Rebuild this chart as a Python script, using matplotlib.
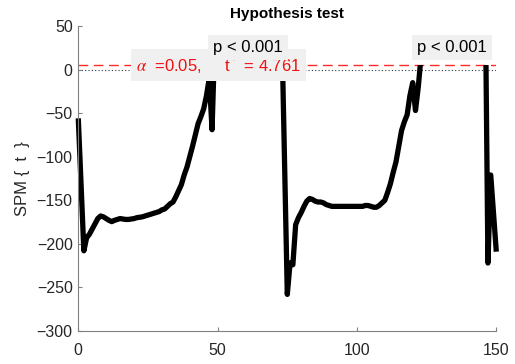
import numpy as np
import matplotlib
matplotlib.use("Agg")
import matplotlib.pyplot as plt
from matplotlib.patches import Rectangle

plt.rcParams['font.family'] = ['Liberation Sans', 'DejaVu Sans']
plt.rcParams['mathtext.fontset'] = 'stix'

# SPM{t} trajectory, one value per node (0..150)
# nodes 49-73 and 123-146 sit above the threshold and are not visible in the figure
spm_t = [
    -56, -132, -208, -193, -189, -183, -177, -171, -168, -169,
    -171, -173, -174.5, -173, -172, -171, -171.5, -172, -172, -171.5,
    -171, -170, -169.5, -169, -168, -167, -166, -165, -164, -163,
    -161, -160, -157, -154, -152, -146, -139, -132, -121, -112,
    -100, -88, -75, -62, -54, -45, -30, -10, -69, 36,
    58, 80, 100, 118, 132, 142, 150, 155, 158, 160,
    160, 158, 155, 150, 143, 135, 125, 114, 102, 90,
    78, 68, 60, 51, -103, -258, -222, -224, -178, -170,
    -164, -157, -151, -148, -149, -151, -152, -152, -153, -155,
    -156, -157, -157, -157, -157, -157, -157, -157, -157, -157,
    -157, -157, -157, -156, -156, -157, -158, -158, -156, -153,
    -150, -141, -131, -118, -106, -88, -70, -60, -52, -30,
    -15, -47, -20, 15, 40, 65, 88, 108, 124, 136,
    145, 151, 155, 157, 157, 155, 152, 147, 141, 134,
    126, 118, 112, 108, 105, 102, 100, -222, -121, -165,
    -209,
]
t_star = 4.761
alpha = 0.05
cluster_x = [61, 134]
cluster_p = ['p < 0.001', 'p < 0.001']

x = np.arange(len(spm_t))
fig = plt.figure(figsize=(5.15, 3.64), dpi=100)
ax = fig.add_axes([0.152, 0.0907, 0.8117, 0.8379])

ax.plot([0, 150], [0, 0], color='0.2', ls=(0, (1, 2)), lw=0.8, zorder=1)
ax.plot([0, 150], [t_star, t_star], color='#ff2a2a', ls=(0, (7, 4)), lw=1.0, zorder=1)

line, = ax.plot(x, spm_t, color='k', lw=3.8, zorder=2, solid_capstyle='butt')
clip = Rectangle((-20, -1000), 200, t_star + 1000, transform=ax.transData)
line.set_clip_path(clip)

ax.text(50.2, t_star, r'$\alpha$  =0.05,     t$^*$ = 4.761', color='#f01010', fontsize=12,
        ha='center', va='center', zorder=3,
        bbox=dict(boxstyle='square,pad=0.3', fc='0.94', ec='none'))
for cx, p in zip(cluster_x, cluster_p):
    ax.text(cx, 25.4, p, color='k', fontsize=12, ha='center', va='center', zorder=4,
            bbox=dict(boxstyle='square,pad=0.3', fc='0.94', ec='none'))

ax.set_xlim(0, 150)
ax.set_ylim(-300, 50)
ax.set_xticks([0, 50, 100, 150])
ax.set_yticks(np.arange(-300, 51, 50))
for s in ['top', 'right']:
    ax.spines[s].set_visible(False)
for s in ['left', 'bottom']:
    ax.spines[s].set_color('0.5')
    ax.spines[s].set_linewidth(0.8)
ax.tick_params(direction='in', length=3, width=0.8, color='0.5',
               labelsize=11.5, labelcolor='0.15')
ax.tick_params(axis='x', pad=8.5)
ax.tick_params(axis='y', pad=4)
ax.set_ylabel('SPM {  t  }', fontsize=12, color='0.15', labelpad=5)
ax.set_title('Hypothesis test', fontsize=11, fontweight='bold', pad=6)

fig.savefig('out.png', dpi=100)
